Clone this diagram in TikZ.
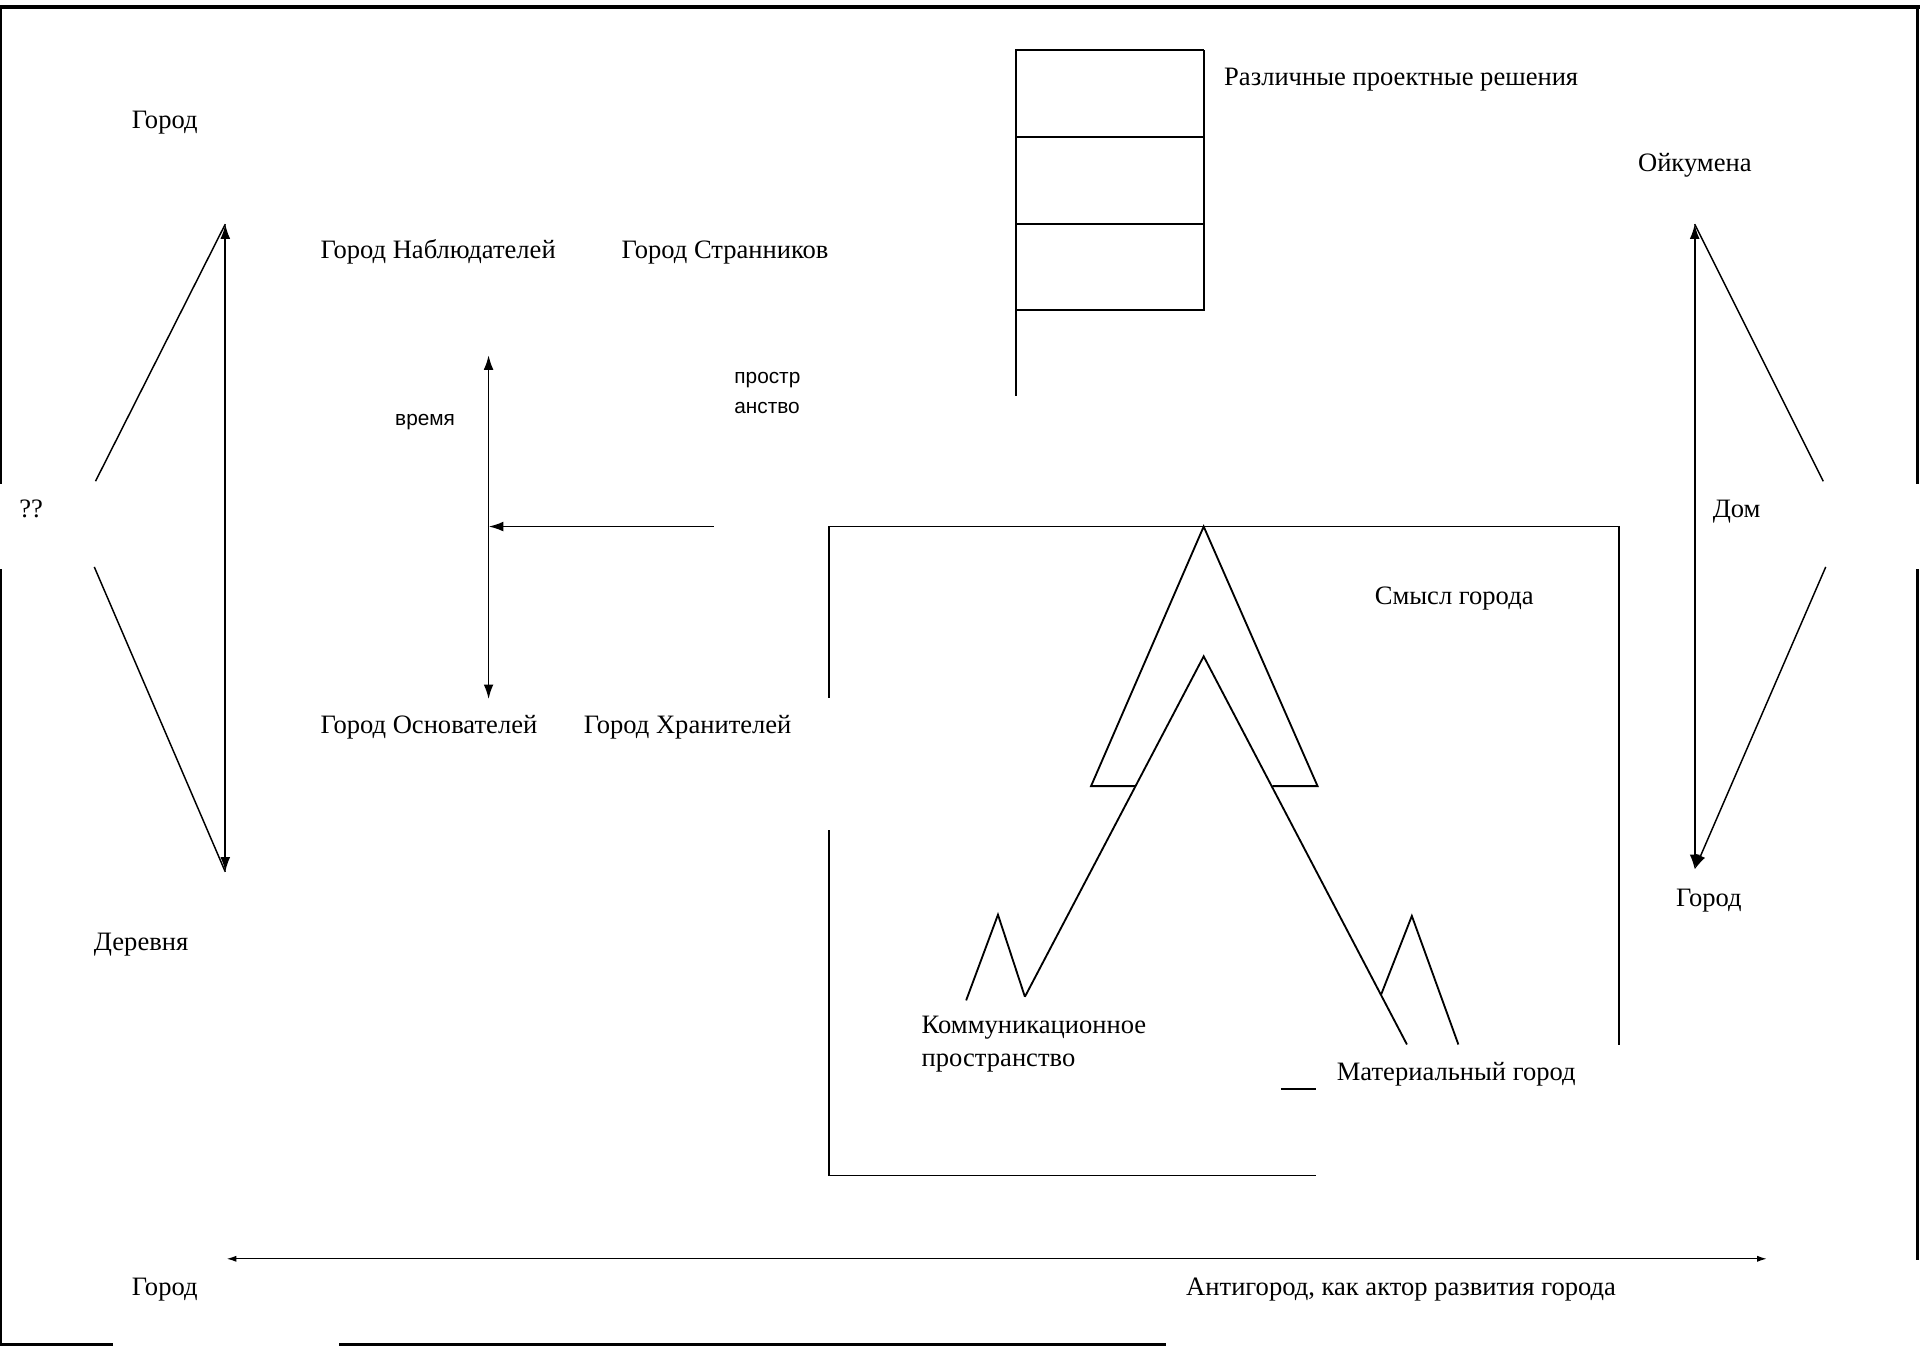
\documentclass[tikz,border=0pt]{standalone}
\usepackage{fontspec}
\setmainfont{Liberation Serif}
\newfontfamily\arialfont{Liberation Sans}
\usetikzlibrary{arrows.meta,positioning}

\begin{document}
\begin{tikzpicture}[x=1pt,y=-1pt,line width=1.5pt,>={Latex[length=12pt,width=8pt]}]
    \tikzstyle{lbl}=[inner sep=0pt, anchor=base west, font=\fontsize{21.7}{27}\selectfont]
    \tikzstyle{slbl}=[inner sep=0pt, anchor=west, align=left, font=\arialfont\fontsize{17}{24}\selectfont]
    \tikzstyle{frame}=[line width=2pt]
    \tikzstyle{diag}=[line width=1.2pt]

    \useasboundingbox (0,0) rectangle (1568,1101);

    % outer frame
    \draw[line width=3.5pt] (0,6) -- (1568,6);
    \draw[frame] (1,6) -- (1,395);
    \draw[frame] (1,465) -- (1,1098) -- (92,1098);
    \draw[frame] (277,1098) -- (952,1098);
    \draw[frame] (1566,6) -- (1566,395);
    \draw[frame] (1566,465) -- (1566,1029);

    % left triangle
    \node[lbl] (gorodL)   at (107,105) {Город};
    \node[lbl] (qq)       at (15,423)  {??};
    \node[lbl] (derevnya) at (76,776)  {Деревня};
    \coordinate (lTop) at (184,183);
    \coordinate (lBot) at (184,712);
    \coordinate (lUp)  at (78,393);
    \coordinate (lDn)  at (77,463);
    \draw[<->] (lBot) -- (lTop);
    \draw[diag] (lUp) -- (lTop);
    \draw[diag] (lDn) -- (lBot);

    % time / space
    \node[lbl] (nabl)   at (261,211) {Город Наблюдателей};
    \node[lbl] (strann) at (507,211) {Город Странников};
    \node[lbl] (osnov)  at (261,599) {Город Основателей};
    \node[lbl] (hranit) at (476,599) {Город Хранителей};
    \node[slbl] (vremya) at (322,345) {время};
    \node[slbl] (prostr) at (599,321) {простр\\анство};
    \coordinate (vTop) at (399,290);
    \coordinate (vBot) at (399,571);
    \coordinate (hStart) at (583,430);
    \draw[<->] (vBot) -- (vTop);
    \draw[->] (hStart) -- (hStart -| vTop);

    % project solutions
    \node[lbl] (reshen) at (999,70) {Различные проектные решения};
    \draw (830,323) -- (830,41) -- (983,41);
    \draw (830,112) -- (983,112);
    \draw (830,183) -- (983,183);
    \draw (830,253) -- (983,253) -- (983,41);

    % city box
    \draw (677,570) -- (677,430) -- (1322,430) -- (1322,853);
    \draw (677,678) -- (677,960) -- (1075,960);
    \draw (1046,889) -- (1075,889);
    \coordinate (apex)  at (983,430);
    \coordinate (inner) at (983,536);
    \draw (927,642) -- (891,642) -- (apex) -- (1076,642) -- (1039,642);
    \draw (837,814) -- (inner) -- (1149,853);
    \draw (789,817) -- (815,747) -- (837,814);
    \draw (1128,812) -- (1153,748) -- (1191,853);
    \node[lbl] (smysl) at (1122,494) {Смысл города};
    \node[lbl, anchor=west, align=left] (kommun) at (752,853) {Коммуникационное\\пространство};
    \node[lbl] (mater) at (1091,882) {Материальный город};

    % right triangle
    \node[lbl] (oikum)  at (1337,140) {Ойкумена};
    \node[lbl] (dom)    at (1398,423) {Дом};
    \node[lbl] (gorodR) at (1368,740) {Город};
    \coordinate (rTop) at (1384,183);
    \coordinate (rBot) at (1384,710);
    \coordinate (rUp)  at (1489,393);
    \coordinate (rDn)  at (1491,463);
    \draw[<->] (rBot) -- (rTop);
    \draw[diag] (rUp) -- (rTop);
    \draw[diag,->] (rDn) -- (rBot);

    % bottom axis
    \node[lbl] (gorodB)    at (107,1058) {Город};
    \node[lbl] (antigorod) at (968,1058) {Антигород, как актор развития города};
    \coordinate (bL) at (185,1028);
    \coordinate (bR) at (1443,1028);
    \draw[<->, line width=1.1pt, >={Latex[length=8pt,width=5pt]}] (bL) -- (bR);

\end{tikzpicture}
\end{document}
